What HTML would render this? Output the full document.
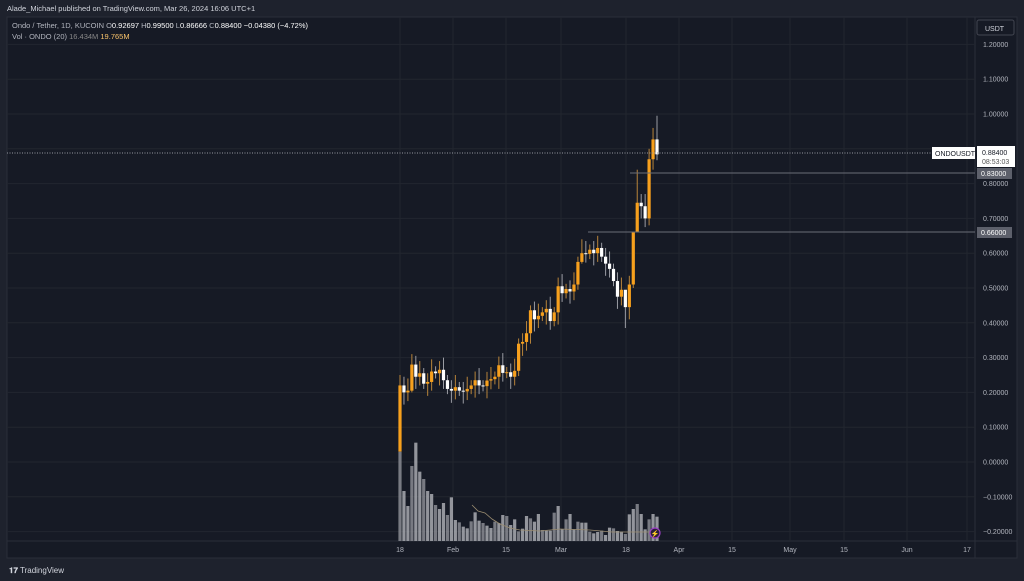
<!DOCTYPE html>
<html><head><meta charset="utf-8"><style>
html,body{margin:0;padding:0;background:#1e222d;width:1024px;height:581px;overflow:hidden}
svg{display:block;font-family:"Liberation Sans",sans-serif}
</style></head><body>
<svg id="s" width="1024" height="581" xmlns="http://www.w3.org/2000/svg">
<rect width="1024" height="581" fill="#1e222d"/>
<rect x="7" y="17" width="1010" height="541" fill="#161a25" stroke="#2a2e39"/>
<line x1="975" y1="17" x2="975" y2="558" stroke="#2a2e39"/>
<line x1="7" y1="541" x2="1017" y2="541" stroke="#2a2e39"/>
<text x="7" y="11" font-size="7.5" fill="#d1d4dc">Alade_Michael published on TradingView.com, Mar 26, 2024 16:06 UTC+1</text>
<text x="12" y="28" font-size="7.5" fill="#b2b5be">Ondo / Tether, 1D, KUCOIN  <tspan>O</tspan><tspan fill="#fff">0.92697</tspan>  H<tspan fill="#fff">0.99500</tspan>  L<tspan fill="#fff">0.86666</tspan>  C<tspan fill="#fff">0.88400</tspan>  <tspan fill="#fff">−0.04380 (−4.72%)</tspan></text>
<text x="12" y="39" font-size="7.5" fill="#b2b5be">Vol · ONDO (20)  <tspan fill="#888">16.434M</tspan>  <tspan fill="#f7c26b">19.765M</tspan></text>
<rect x="977" y="20" width="37" height="15" rx="2" fill="none" stroke="#434651"/>
<text x="985" y="31" font-size="7" fill="#d1d4dc">USDT</text>
<g id="grid"></g><g id="vol"></g><g id="c"></g><g id="ax"></g>
<text x="9" y="573" font-size="8" fill="#d1d4dc" font-weight="bold">𝟏𝟕</text>
<text x="20" y="573" font-size="8" fill="#d1d4dc">TradingView</text>
</svg>
<script>
var NS="http://www.w3.org/2000/svg";
function el(p,t,a,tx){var e=document.createElementNS(NS,t);for(var k in a)e.setAttribute(k,a[k]);if(tx!=null)e.textContent=tx;document.getElementById(p).appendChild(e);return e;}
function Y(p){return 462-348*p;}
for(var i=-2;i<=12;i++){var p=i/10,y=Y(p);el("grid","line",{x1:7,x2:975,y1:y,y2:y,stroke:"#22262f"});
 if(i==9)continue;el("ax","text",{x:983,y:y+2.5,"font-size":7,fill:"#b2b5be"},(p<0?"−":"")+Math.abs(p).toFixed(5));}
var xs=[[400,"18"],[453,"Feb"],[506,"15"],[561,"Mar"],[626,"18"],[679,"Apr"],[732,"15"],[790,"May"],[844,"15"],[907,"Jun"],[967,"17"]];
xs.forEach(function(d){el("grid","line",{x1:d[0],x2:d[0],y1:17,y2:541,stroke:"#22262f"});el("ax","text",{x:d[0],y:552,"font-size":7,fill:"#b2b5be","text-anchor":"middle"},d[1]);});
var C=[0.22,0.20,0.205,0.28,0.245,0.255,0.225,0.23,0.26,0.255,0.265,0.235,0.21,0.205,0.215,0.205,0.203,0.21,0.22,0.235,0.22,0.218,0.234,0.238,0.245,0.278,0.256,0.258,0.245,0.262,0.34,0.345,0.37,0.436,0.41,0.42,0.43,0.44,0.405,0.43,0.505,0.485,0.497,0.49,0.51,0.575,0.60,0.598,0.61,0.60,0.615,0.59,0.57,0.555,0.52,0.475,0.495,0.445,0.51,0.66,0.745,0.735,0.70,0.87,0.927,0.884];
var n=C.length,sp=(657-400)/(n-1);
var V=[65,183,228,108,38,125,147,183,192,225,237,219,255,202,270,277,290,295,274,247,272,279,287,294,275,279,255,258,285,268,304,296,258,265,275,252,300,302,302,248,228,298,268,252,298,275,278,278,305,310,306,302,315,293,295,303,305,312,253,237,222,252,298,268,252,260];
var HL={3:[0.31,0.2],57:[0.47,0.385],59:[0.66,0.5],60:[0.84,0.66],63:[0.9,0.68],64:[0.96,0.84],65:[0.995,0.867],46:[0.64,0.57],33:[0.45,0.34],0:[0.25,0.03]};
var base=541;
for(var i=0;i<n;i++){var x=400+i*sp,c=C[i],o=i==0?0.03:C[i-1];
 var h=(V[i]!=null?V[i]:260),vh=(333-h)/3;
 el("vol","rect",{x:x-1.6,y:base-vh,width:3.2,height:vh,fill:i%3==0?"#8a8c93":"#a9abb2",opacity:0.85});
 var up=c>=o,col=up?"#f7a01d":"#ffffff";
 var hi=Math.max(o,c)+0.015+0.01*((i*7)%3),lo=Math.min(o,c)-0.015-0.01*((i*5)%3);
 if(HL[i]){hi=HL[i][0];lo=HL[i][1];}
 el("c","line",{x1:x,x2:x,y1:Y(hi),y2:Y(lo),stroke:up?"#b8843a":"#9a9ca3","stroke-width":1});
 var t=Y(Math.max(o,c)),b=Y(Math.min(o,c));el("c","rect",{x:x-1.6,y:t,width:3.2,height:Math.max(1,b-t),fill:col});}
el("vol","polyline",{points:"472,495 478,501 485,503 492,509 500,514 510,518 520,520 540,521 560,519 590,520 612,522 640,522 655,522".split(" ").map(function(s){var a=s.split(",");return a[0]+","+(+a[1]+10);}).join(" "),fill:"none",stroke:"#9a8c70","stroke-width":0.8});
el("vol","circle",{cx:655,cy:533,r:5,fill:"#2a1f3a",stroke:"#9c3fc5","stroke-width":1.2});
el("vol","text",{x:655,y:536,"font-size":7,fill:"#c56ee8","text-anchor":"middle"},"⚡");
el("c","line",{x1:7,x2:975,y1:153,y2:153,stroke:"#9598a1","stroke-dasharray":"1,1.5"});
el("c","line",{x1:630,x2:975,y1:173,y2:173,stroke:"#6a6d78"});
el("c","line",{x1:588,x2:975,y1:232,y2:232,stroke:"#6a6d78"});
el("ax","rect",{x:932,y:147,width:43,height:12,fill:"#fff"});
el("ax","text",{x:935,y:156,"font-size":7,fill:"#131722"},"ONDOUSDT");
el("ax","rect",{x:977,y:146,width:38,height:21,fill:"#fff"});
el("ax","text",{x:982,y:155,"font-size":7,fill:"#131722"},"0.88400");
el("ax","text",{x:982,y:164,"font-size":7,fill:"#555"},"08:53:03");
el("ax","rect",{x:977,y:168,width:35,height:11,fill:"#5d606b"});
el("ax","text",{x:981,y:176,"font-size":7,fill:"#fff"},"0.83000");
el("ax","rect",{x:977,y:227,width:35,height:11,fill:"#5d606b"});
el("ax","text",{x:981,y:235,"font-size":7,fill:"#fff"},"0.66000");
</script>
</body></html>
